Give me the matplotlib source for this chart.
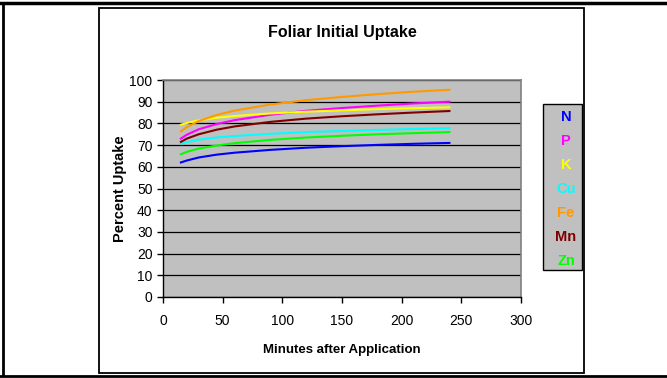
import matplotlib
matplotlib.use("Agg")
import matplotlib.pyplot as plt
from matplotlib.patches import Rectangle
from matplotlib.lines import Line2D

plt.rcParams['font.family'] = ['Liberation Sans', 'DejaVu Sans']

minutes = [15, 20, 30, 45, 60, 90, 120, 150, 180, 210, 240]
N  = [62.0, 62.9, 64.3, 65.6, 66.5, 67.8, 68.8, 69.5, 70.1, 70.6, 71.0]
P  = [73.0, 74.8, 77.3, 79.7, 81.5, 84.0, 85.8, 87.1, 88.2, 89.2, 90.0]
K  = [79.4, 80.2, 81.4, 82.6, 83.4, 84.6, 85.4, 86.0, 86.6, 87.0, 87.4]
Cu = [70.7, 71.4, 72.5, 73.5, 74.2, 75.2, 76.0, 76.5, 77.0, 77.4, 77.8]
Fe = [76.3, 78.3, 81.1, 83.9, 85.9, 88.7, 90.7, 92.2, 93.5, 94.6, 95.5]
Mn = [71.5, 73.0, 75.0, 77.1, 78.6, 80.7, 82.2, 83.3, 84.2, 85.0, 85.7]
Zn = [65.8, 66.9, 68.4, 69.8, 70.9, 72.4, 73.5, 74.3, 75.0, 75.5, 76.0]

series_names = ["N", "P", "K", "Cu", "Fe", "Mn", "Zn"]
series_values = [N, P, K, Cu, Fe, Mn, Zn]
colors = ["#0000FF", "#FF00FF", "#FFFF00", "#00FFFF", "#FF9900", "#800000", "#00FF00"]

x_ticks = [0, 50, 100, 150, 200, 250, 300]
y_ticks = [0, 10, 20, 30, 40, 50, 60, 70, 80, 90, 100]

W, H = 667, 378
fig = plt.figure(figsize=(W / 100, H / 100), dpi=100)

def fx(px):
    return px / W

def fy(py):
    return 1 - py / H

# outer frame lines
fig.add_artist(Line2D([fx(0), fx(667)], [fy(3), fy(3)], color="black", lw=2.5))
fig.add_artist(Line2D([fx(3), fx(3)], [fy(3), fy(375)], color="black", lw=2))
fig.add_artist(Line2D([fx(0), fx(667)], [fy(375.5), fy(375.5)], color="black", lw=2))
# inner chart frame
fig.add_artist(Rectangle((fx(99), fy(373)), fx(584) - fx(99), fy(8) - fy(373),
                         fill=False, edgecolor="black", lw=1.3))

ax = fig.add_axes([fx(163), fy(297), fx(521) - fx(163), fy(80) - fy(297)])
ax.set_facecolor("#C0C0C0")
for name, vals, c in zip(series_names, series_values, colors):
    ax.plot(minutes, vals, color=c, lw=1.5, label=name, zorder=3)

ax.set_xlim(0, 300)
ax.set_ylim(0, 100)
ax.set_xticks(x_ticks)
ax.set_yticks(y_ticks)
ax.yaxis.grid(True, color="black", lw=0.9, zorder=1)
ax.set_axisbelow(True)
for s in ["top", "right"]:
    ax.spines[s].set_color("#808080")
    ax.spines[s].set_linewidth(1.2)
for s in ["left", "bottom"]:
    ax.spines[s].set_color("black")
    ax.spines[s].set_linewidth(1.0)
ax.tick_params(axis="both", direction="out", length=4, width=1, labelsize=10, colors="black")
ax.tick_params(axis="x", pad=8)

fig.text(fx(342), fy(33), "Foliar Initial Uptake", ha="center", va="center",
         fontsize=11.5, fontweight="bold")
fig.text(fx(342), fy(350), "Minutes after Application", ha="center", va="center",
         fontsize=9.5, fontweight="bold")
fig.text(fx(120), fy(189), "Percent Uptake", ha="center", va="center",
         rotation=90, fontsize=10.5, fontweight="bold")

# legend box
fig.add_artist(Rectangle((fx(543), fy(270)), fx(582) - fx(543), fy(104) - fy(270),
                         facecolor="#C0C0C0", edgecolor="black", lw=1.0))
for i, (name, c) in enumerate(zip(series_names, colors)):
    fig.text(fx(566), fy(117 + 24 * i), name, color=c, ha="center", va="center",
             fontsize=10.5, fontweight="bold")

fig.savefig("out.png", dpi=100)
